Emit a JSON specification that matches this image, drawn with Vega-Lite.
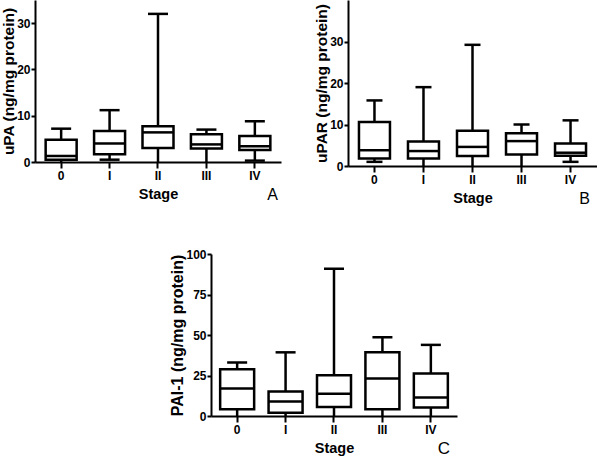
{
  "$schema": "https://vega.github.io/schema/vega-lite/v6.json",
  "padding": {"left": 1, "top": 0, "right": 0, "bottom": 0},
  "autosize": {"type": "pad"},
  "background": "white",
  "datasets": {
    "box": [
      {"panel": "A", "stage": "0", "min": 0, "q1": 0.5, "median": 1.3, "q3": 4.8, "max": 7.2},
      {"panel": "A", "stage": "I", "min": 0.5, "q1": 1.7, "median": 4.0, "q3": 6.7, "max": 11.2},
      {"panel": "A", "stage": "II", "min": 0, "q1": 3.0, "median": 6.4, "q3": 7.7, "max": 32.0},
      {"panel": "A", "stage": "III", "min": 0, "q1": 2.9, "median": 3.8, "q3": 6.0, "max": 7.0},
      {"panel": "A", "stage": "IV", "min": 0.3, "q1": 2.6, "median": 3.4, "q3": 5.6, "max": 8.8},
      {"panel": "B", "stage": "0", "min": 1.0, "q1": 1.8, "median": 3.8, "q3": 10.6, "max": 15.8},
      {"panel": "B", "stage": "I", "min": 0, "q1": 1.8, "median": 3.6, "q3": 5.9, "max": 19.0},
      {"panel": "B", "stage": "II", "min": 0, "q1": 2.4, "median": 4.6, "q3": 8.5, "max": 29.2},
      {"panel": "B", "stage": "III", "min": 0, "q1": 2.8, "median": 6.0, "q3": 7.9, "max": 10.0},
      {"panel": "B", "stage": "IV", "min": 1.0, "q1": 2.5, "median": 3.2, "q3": 5.4, "max": 11.0},
      {"panel": "C", "stage": "0", "min": 0, "q1": 4.1, "median": 16.9, "q3": 28.9, "max": 33.0},
      {"panel": "C", "stage": "I", "min": 0, "q1": 2.0, "median": 8.9, "q3": 15.1, "max": 39.3},
      {"panel": "C", "stage": "II", "min": 0, "q1": 5.6, "median": 13.8, "q3": 25.2, "max": 90.9},
      {"panel": "C", "stage": "III", "min": 0, "q1": 4.1, "median": 23.1, "q3": 39.3, "max": 48.6},
      {"panel": "C", "stage": "IV", "min": 0, "q1": 5.2, "median": 11.4, "q3": 26.2, "max": 43.9}
    ]
  },
  "config": {
    "font": "Liberation Sans",
    "view": {"stroke": null},
    "axis": {"domainColor": "black", "domainWidth": 2, "tickColor": "black", "tickWidth": 2, "labelFont": "Liberation Sans", "labelFontWeight": "bold", "labelFontSize": 12, "labelColor": "black", "titleFont": "Liberation Sans", "titleFontWeight": "bold", "titleColor": "black", "grid": false},
    "axisX": {"tickSize": 6, "labelPadding": 2, "titleFontSize": 14.5, "titlePadding": 6, "labelAngle": 0},
    "axisY": {"tickSize": 4, "labelPadding": 1, "titleFontSize": 15.5, "titlePadding": 0},
    "title": {"font": "Liberation Sans", "fontWeight": "normal", "fontSize": 16, "color": "black", "anchor": "end", "orient": "bottom", "offset": -14}
  },
  "spacing": 41,
  "vconcat": [
    {
      "spacing": 33,
      "hconcat": [
        {
          "width": 246, "height": 162,
          "data": {"name": "box"},
          "transform": [{"filter": "datum.panel === 'A'"}],
          "title": {"text": "A", "dx": -3},
          "encoding": {"x": {"field": "stage", "type": "ordinal", "sort": ["0", "I", "II", "III", "IV"], "scale": {"paddingInner": 0.3, "paddingOuter": 0.19}, "axis": {"title": "Stage"}}},
          "layer": [
            {"mark": {"type": "rule", "color": "black", "strokeWidth": 2.5}, "encoding": {"y": {"field": "min", "type": "quantitative", "scale": {"domain": [0, 35]}, "axis": {"title": "uPA (ng/mg protein)", "values": [0, 10, 20, 30]}}, "y2": {"field": "max"}}},
            {"mark": {"type": "bar", "fill": "white", "stroke": "black", "strokeWidth": 2.5, "width": 31}, "encoding": {"y": {"field": "q1", "type": "quantitative", "axis": {"title": "uPA (ng/mg protein)", "values": [0, 10, 20, 30]}}, "y2": {"field": "q3"}}},
            {"mark": {"type": "tick", "color": "black", "opacity": 1, "thickness": 2.5, "size": 31}, "encoding": {"y": {"field": "median", "type": "quantitative", "axis": {"title": "uPA (ng/mg protein)", "values": [0, 10, 20, 30]}}}},
            {"mark": {"type": "tick", "color": "black", "opacity": 1, "thickness": 2.5, "size": 20}, "encoding": {"y": {"field": "max", "type": "quantitative", "axis": {"title": "uPA (ng/mg protein)", "values": [0, 10, 20, 30]}}}},
            {"transform": [{"filter": "datum.min > 0"}], "mark": {"type": "tick", "color": "black", "opacity": 1, "thickness": 2.5, "size": 20}, "encoding": {"y": {"field": "min", "type": "quantitative", "axis": {"title": "uPA (ng/mg protein)", "values": [0, 10, 20, 30]}}}}
          ]
        },
        {
          "width": 249, "height": 166,
          "data": {"name": "box"},
          "transform": [{"filter": "datum.panel === 'B'"}],
          "title": {"text": "B", "dx": -7},
          "encoding": {"x": {"field": "stage", "type": "ordinal", "sort": ["0", "I", "II", "III", "IV"], "scale": {"paddingInner": 0.3, "paddingOuter": 0.19}, "axis": {"title": "Stage"}}},
          "layer": [
            {"mark": {"type": "rule", "color": "black", "strokeWidth": 2.5}, "encoding": {"y": {"field": "min", "type": "quantitative", "scale": {"domain": [0, 35.8]}, "axis": {"title": "uPAR (ng/mg protein)", "values": [0, 10, 20, 30]}}, "y2": {"field": "max"}}},
            {"mark": {"type": "bar", "fill": "white", "stroke": "black", "strokeWidth": 2.5, "width": 31}, "encoding": {"y": {"field": "q1", "type": "quantitative", "axis": {"title": "uPAR (ng/mg protein)", "values": [0, 10, 20, 30]}}, "y2": {"field": "q3"}}},
            {"mark": {"type": "tick", "color": "black", "opacity": 1, "thickness": 2.5, "size": 31}, "encoding": {"y": {"field": "median", "type": "quantitative", "axis": {"title": "uPAR (ng/mg protein)", "values": [0, 10, 20, 30]}}}},
            {"mark": {"type": "tick", "color": "black", "opacity": 1, "thickness": 2.5, "size": 16}, "encoding": {"y": {"field": "max", "type": "quantitative", "axis": {"title": "uPAR (ng/mg protein)", "values": [0, 10, 20, 30]}}}},
            {"transform": [{"filter": "datum.min > 0"}], "mark": {"type": "tick", "color": "black", "opacity": 1, "thickness": 2.5, "size": 16}, "encoding": {"y": {"field": "min", "type": "quantitative", "axis": {"title": "uPAR (ng/mg protein)", "values": [0, 10, 20, 30]}}}}
          ]
        }
      ]
    },
    {
      "spacing": 0,
      "hconcat": [
        {
          "width": 134, "height": 10,
          "data": {"values": [{}]},
          "mark": {"type": "point", "opacity": 0},
          "encoding": {}
        },
        {
          "width": 246, "height": 162,
          "data": {"name": "box"},
          "transform": [{"filter": "datum.panel === 'C'"}],
          "title": {"text": "C", "dx": -7, "fontSize": 17},
          "encoding": {"x": {"field": "stage", "type": "ordinal", "sort": ["0", "I", "II", "III", "IV"], "scale": {"paddingInner": 0.3, "paddingOuter": 0.19}, "axis": {"title": "Stage"}}},
          "layer": [
            {"mark": {"type": "rule", "color": "black", "strokeWidth": 2.5}, "encoding": {"y": {"field": "min", "type": "quantitative", "scale": {"domain": [0, 100]}, "axis": {"title": "PAI-1 (ng/mg protein)", "titleFontSize": 16, "values": [0, 25, 50, 75, 100]}}, "y2": {"field": "max"}}},
            {"mark": {"type": "bar", "fill": "white", "stroke": "black", "strokeWidth": 2.5, "width": 34}, "encoding": {"y": {"field": "q1", "type": "quantitative", "axis": {"title": "PAI-1 (ng/mg protein)", "titleFontSize": 16, "values": [0, 25, 50, 75, 100]}}, "y2": {"field": "q3"}}},
            {"mark": {"type": "tick", "color": "black", "opacity": 1, "thickness": 2.5, "size": 34}, "encoding": {"y": {"field": "median", "type": "quantitative", "axis": {"title": "PAI-1 (ng/mg protein)", "titleFontSize": 16, "values": [0, 25, 50, 75, 100]}}}},
            {"mark": {"type": "tick", "color": "black", "opacity": 1, "thickness": 2.5, "size": 20}, "encoding": {"y": {"field": "max", "type": "quantitative", "axis": {"title": "PAI-1 (ng/mg protein)", "titleFontSize": 16, "values": [0, 25, 50, 75, 100]}}}},
            {"transform": [{"filter": "datum.min > 0"}], "mark": {"type": "tick", "color": "black", "opacity": 1, "thickness": 2.5, "size": 20}, "encoding": {"y": {"field": "min", "type": "quantitative", "axis": {"title": "PAI-1 (ng/mg protein)", "titleFontSize": 16, "values": [0, 25, 50, 75, 100]}}}}
          ]
        }
      ]
    }
  ]
}
